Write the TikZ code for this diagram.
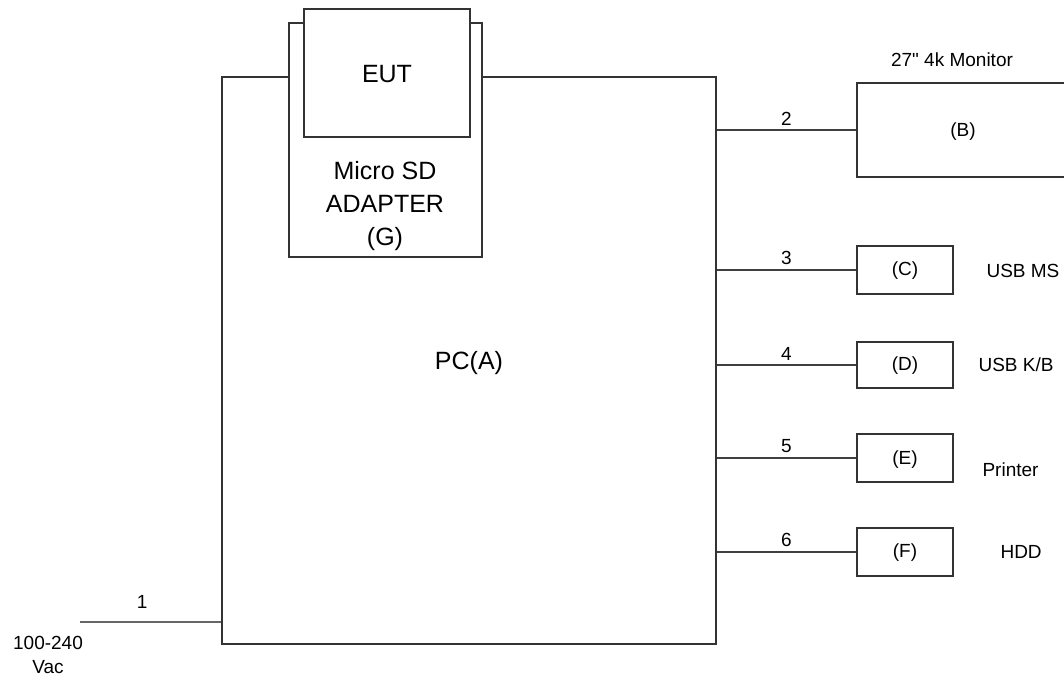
\documentclass[tikz,border=0pt]{standalone}
\usepackage{fontspec}
\setmainfont{Liberation Sans}
\usetikzlibrary{positioning}

\begin{document}
\begin{tikzpicture}[x=1pt, y=-1pt,
    unit/.style={draw=black!80, line width=1.3pt, fill=white, inner sep=0pt},
    cable/.style={draw=black!75, line width=1.3pt},
    bigtext/.style={font=\fontsize{25}{33}\selectfont},
    smalltext/.style={font=\fontsize{19}{24}\selectfont}]
% Frame
\useasboundingbox (0,0) rectangle (1064,680);
\clip (0,0) rectangle (1064,680);

% PC (A)
\node[unit, minimum width=494pt, minimum height=567pt] (pc) at (469,360.5) {};
\node[bigtext] (pclabel) at (469,363) {PC(A)};

% Micro SD adapter with EUT
\node[unit, minimum width=193pt, minimum height=234pt] (adapter) at (385.5,140) {};
\node[unit, minimum width=166pt, minimum height=128pt] (eut) at (387,73) {};
\node[bigtext] (eutlabel) at (387,74) {EUT};
\node[bigtext, align=center] (adapterlabel) at (385,206) {Micro SD\\ADAPTER\\(G)};

% Monitor (B)
\node[unit, minimum width=212pt, minimum height=94pt] (monitor) at (963,130) {};
\node[smalltext] at (963,132) {(B)};
\node[smalltext] (monitorlabel) at (952,60) {27\textquotedbl{} 4k Monitor};

% Small units
\node[unit, minimum width=96pt, minimum height=48pt] (msu) at (905,270) {};
\node[smalltext] at (905,271) {(C)};
\node[unit, minimum width=96pt, minimum height=46pt] (kb) at (905,365) {};
\node[smalltext] at (905,366) {(D)};
\node[unit, minimum width=96pt, minimum height=48pt] (prn) at (905,458) {};
\node[smalltext] at (905,460) {(E)};
\node[unit, minimum width=96pt, minimum height=48pt] (hdd) at (905,552) {};
\node[smalltext] at (905,553) {(F)};

% Unit names
\node[smalltext, anchor=west] (mslabel) at (983,271) {USB MS};
\node[smalltext, anchor=west] (kblabel) at (975,365) {USB K/B};
\node[smalltext, anchor=west] (prnlabel) at (979,470) {Printer};
\node[smalltext, anchor=west] (hddlabel) at (997,552) {HDD};

% Cables
\draw[cable] (pc.east |- monitor.west) -- node[smalltext, above=1pt] {2} (monitor.west);
\draw[cable] (pc.east |- msu.west) -- node[smalltext, above=1pt] {3} (msu.west);
\draw[cable] (pc.east |- kb.west) -- node[smalltext, above=1pt] {4} (kb.west);
\draw[cable] (pc.east |- prn.west) -- node[smalltext, above=1pt] {5} (prn.west);
\draw[cable] (pc.east |- hdd.west) -- node[smalltext, above=1pt] {6} (hdd.west);

% Mains
\coordinate (mains) at (80,622);
\draw[cable, draw=black!60] (mains) -- node[smalltext, pos=0.44, above=10pt] {1} (pc.west |- mains);
\node[smalltext, align=center] (mainslabel) at (48,655) {100-240\\Vac};
\end{tikzpicture}
\end{document}
